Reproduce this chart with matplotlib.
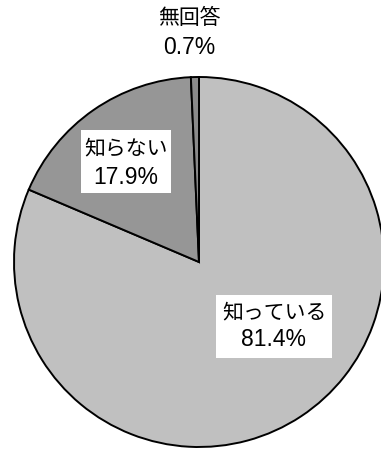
import matplotlib
matplotlib.use("Agg")
import matplotlib.pyplot as plt
from matplotlib.patches import Rectangle

categories = ["知っている", "知らない", "無回答"]
values = [81.4, 17.9, 0.7]
colors = ["#C0C0C0", "#969696", "#8A8A8A"]

cjk = ['Noto Sans CJK JP', 'DejaVu Sans']
num = ['Liberation Sans Narrow', 'Liberation Sans', 'DejaVu Sans']

fig = plt.figure(figsize=(3.81, 4.5), dpi=100)
ax = fig.add_axes([0, 0, 1, 1])

cx, cy, r = 199, 188, 185
ax.pie(values, colors=colors, startangle=90, counterclock=False,
       center=(cx, cy), radius=r, frame=True,
       wedgeprops=dict(edgecolor='black', linewidth=1.4))
ax.set_xlim(0, 381)
ax.set_ylim(0, 450)
ax.set_aspect('equal')
ax.axis('off')

# label layout: (x center, y of name line, y of value line, box or None)
layout = [
    (274, 138, 110, (216, 92, 116, 63)),
    (126, 302, 273, (81, 257, 90, 63)),
    (189, 432, 403, None),
]
for cat, v, (x, y1, y2, box) in zip(categories, values, layout):
    if box is not None:
        ax.add_patch(Rectangle(box[:2], box[2], box[3], facecolor='white',
                               edgecolor='none', zorder=3))
    ax.text(x, y1, cat, ha='center', va='center', fontsize=15,
            family=cjk, zorder=4)
    ax.text(x, y2, f"{v:.1f}%", ha='center', va='center', fontsize=16.5,
            family=num, zorder=4)

fig.savefig("out.png", dpi=100)
